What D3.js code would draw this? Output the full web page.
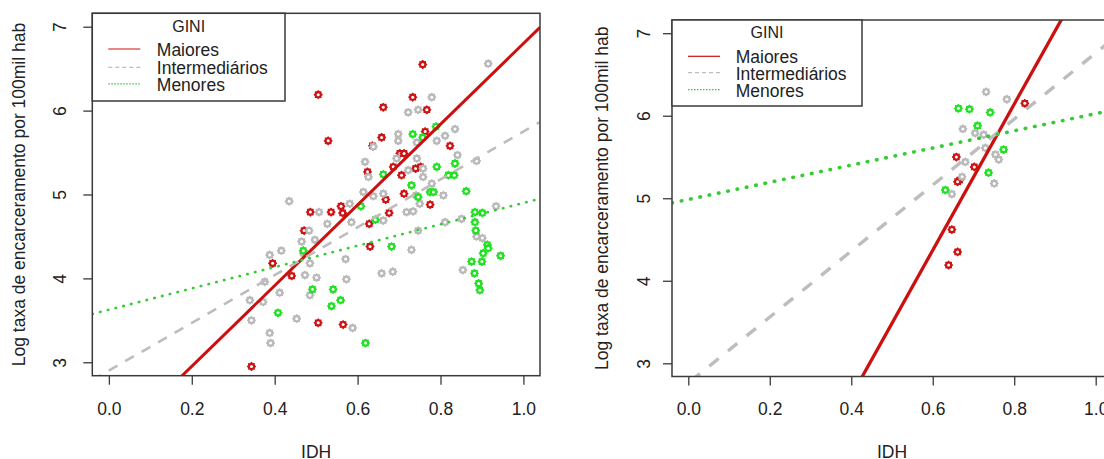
<!DOCTYPE html>
<html>
<head>
<meta charset="utf-8">
<script src="https://cdn.jsdelivr.net/npm/d3@7"></script>
<style>
  body { margin: 0; background: #fff; }
  svg text { font-family: "Liberation Sans", Arial, sans-serif; fill: #222; }
</style>
</head>
<body>
<script>
// data: [IDH, log taxa]
const leftMaiores = [
  [0.757,6.55],[0.505,6.19],[0.733,6.16],[0.662,6.04],[0.767,6.01],[0.529,5.64],[0.763,5.75],
  [0.658,5.68],[0.636,5.58],[0.823,5.58],[0.702,5.49],[0.712,5.49],[0.624,5.27],[0.686,5.33],
  [0.706,5.23],[0.740,5.31],[0.752,5.33],[0.712,5.01],[0.668,4.94],[0.775,4.88],[0.486,4.79],
  [0.536,4.79],[0.560,4.86],[0.564,4.78],[0.676,4.78],[0.628,4.65],[0.471,4.57],[0.395,4.18],
  [0.441,4.03],[0.630,4.38],[0.505,3.47],[0.565,3.45],[0.344,2.95]
];
const leftInter = [
  [0.915,6.56],[0.779,6.16],[0.722,5.98],[0.746,6.01],[0.698,5.72],[0.698,5.64],[0.791,5.64],
  [0.811,5.70],[0.835,5.78],[0.743,5.62],[0.638,5.57],[0.841,5.47],[0.887,5.40],[0.618,5.39],
  [0.694,5.43],[0.743,5.43],[0.722,5.29],[0.758,5.31],[0.626,5.21],[0.758,5.21],[0.779,5.13],
  [0.807,4.99],[0.741,4.99],[0.662,5.01],[0.638,4.98],[0.614,5.03],[0.435,4.92],[0.581,4.89],
  [0.718,4.79],[0.734,4.80],[0.750,4.89],[0.934,4.86],[0.507,4.79],[0.527,4.65],[0.585,4.67],
  [0.662,4.69],[0.851,4.71],[0.811,4.67],[0.746,4.57],[0.887,4.50],[0.483,4.57],[0.388,4.28],
  [0.416,4.33],[0.465,4.44],[0.497,4.46],[0.469,4.30],[0.485,4.18],[0.473,4.04],[0.501,4.01],
  [0.376,3.96],[0.340,3.74],[0.372,3.72],[0.412,3.83],[0.344,3.50],[0.453,3.52],[0.485,3.80],
  [0.388,3.35],[0.390,3.23],[0.571,4.23],[0.573,3.99],[0.588,3.41],[0.658,4.06],[0.685,4.08],
  [0.730,4.34],[0.854,4.10],[0.901,4.48]
];
const leftMenores = [
  [0.789,5.81],[0.733,5.72],[0.757,5.68],[0.662,5.24],[0.791,5.33],[0.835,5.37],[0.819,5.23],
  [0.833,5.23],[0.730,5.11],[0.775,5.03],[0.783,5.03],[0.746,4.97],[0.862,5.04],[0.608,4.86],
  [0.643,4.70],[0.883,4.79],[0.901,4.78],[0.883,4.67],[0.885,4.57],[0.469,4.33],[0.682,4.38],
  [0.913,4.40],[0.915,4.36],[0.903,4.30],[0.945,4.27],[0.875,4.20],[0.900,4.20],[0.882,4.06],
  [0.892,3.94],[0.895,3.86],[0.491,3.87],[0.541,3.87],[0.559,3.74],[0.537,3.67],[0.408,3.59],
  [0.619,3.23]
];
const rightMaiores = [
  [0.826,6.15],[0.658,5.50],[0.702,5.38],[0.666,5.22],[0.661,5.20],[0.647,4.62],[0.661,4.35],[0.639,4.19]
];
const rightInter = [
  [0.731,6.29],[0.782,6.20],[0.674,5.84],[0.704,5.79],[0.725,5.77],[0.729,5.61],[0.754,5.53],
  [0.762,5.47],[0.680,5.44],[0.672,5.26],[0.751,5.18],[0.647,5.05]
];
const rightMenores = [
  [0.663,6.09],[0.690,6.08],[0.741,6.04],[0.710,5.88],[0.774,5.59],[0.737,5.31],[0.631,5.10]
];

// regression lines: [intercept, slope]
const leftFits = [[1.99, 4.81], [2.90, 2.85], [3.626, 1.273]];
const rightFits = [[-0.94, 8.85], [2.76, 4.0], [4.985, 1.04]];

const groups = ["Maiores", "Intermediários", "Menores"];
const xTicks = [0, 0.2, 0.4, 0.6, 0.8, 1.0];
const yTicks = [3, 4, 5, 6, 7];
const legendTitle = "GINI";
const xTitle = "IDH";
const yTitle = "Log taxa de encarceramento por 100mil hab";

const pointColors = ["#cc1414", "#b9b9b9", "#22e022"];
const lineColors = ["#cc1010", "#bdbdbd", "#33cc33"];

const svg = d3.select("body").append("svg")
  .attr("width", 1104).attr("height", 459);

// small flower marker
function flower(r1, r2) {
  const pts = [];
  for (let i = 0; i < 16; i++) {
    const a = i * Math.PI / 8;
    const r = i % 2 === 0 ? r1 : r2;
    pts.push([r * Math.cos(a), r * Math.sin(a)]);
  }
  return d3.line().curve(d3.curveCardinalClosed)(pts);
}

function drawPanel(cfg) {
  const x = d3.scaleLinear().domain([-0.04, 1.04]).range([cfg.x0, cfg.x1]);
  const y = d3.scaleLinear().domain([2.84, 7.16]).range([cfg.y1, cfg.y0]);
  const g = svg.append("g");

  g.append("clipPath").attr("id", cfg.id)
    .append("rect")
    .attr("x", cfg.x0).attr("y", cfg.y0)
    .attr("width", cfg.x1 - cfg.x0).attr("height", cfg.y1 - cfg.y0);

  const plot = g.append("g").attr("clip-path", "url(#" + cfg.id + ")");

  // points
  cfg.sets.forEach((set, i) => {
    const pg = plot.append("g");
    pg.selectAll("g").data(set).join("g")
      .attr("transform", d => `translate(${x(d[0])},${y(d[1])})`)
      .each(function () {
        d3.select(this).append("path")
          .attr("d", flower(4.6, 3.7))
          .attr("fill", pointColors[i]);
        d3.select(this).append("circle")
          .attr("r", 1.5).attr("fill", "#fff");
      });
  });

  // fitted lines
  cfg.fits.forEach((f, i) => {
    const xs = x.domain();
    plot.append("line")
      .attr("x1", x(xs[0])).attr("y1", y(f[0] + f[1] * xs[0]))
      .attr("x2", x(xs[1])).attr("y2", y(f[0] + f[1] * xs[1]))
      .attr("stroke", lineColors[i])
      .attr("stroke-width", cfg.lw[i])
      .attr("stroke-dasharray", cfg.dash[i])
      .attr("stroke-linecap", i === 2 ? "round" : "butt");
  });

  // frame
  g.append("rect")
    .attr("x", cfg.x0).attr("y", cfg.y0)
    .attr("width", cfg.x1 - cfg.x0).attr("height", cfg.y1 - cfg.y0)
    .attr("fill", "none").attr("stroke", "#3a3a3a").attr("stroke-width", 1.5);

  // axes
  const xAxis = g.append("g")
    .attr("transform", `translate(0,${cfg.y1})`)
    .call(d3.axisBottom(x).tickValues(xTicks).tickSize(9).tickFormat(d3.format(".1f")));
  xAxis.select(".domain").remove();
  xAxis.selectAll("line").attr("stroke", "#3a3a3a").attr("stroke-width", 1.3);
  xAxis.selectAll("text").attr("y", 0).attr("dy", null)
    .attr("transform", `translate(0,${cfg.xLabY - cfg.y1})`)
    .attr("dominant-baseline", "central")
    .style("font-size", "17.5px").style("font-family", null);

  const yAxis = g.append("g")
    .attr("transform", `translate(${cfg.x0},0)`)
    .call(d3.axisLeft(y).tickValues(yTicks).tickSize(9).tickFormat(d3.format("d")));
  yAxis.select(".domain").remove();
  yAxis.selectAll("line").attr("stroke", "#3a3a3a").attr("stroke-width", 1.3);
  yAxis.selectAll("text")
    .attr("x", 0).attr("dy", null)
    .attr("transform", `translate(${cfg.yLabX - cfg.x0},0) rotate(-90)`)
    .attr("text-anchor", "middle")
    .attr("dominant-baseline", "central")
    .style("font-size", "17.5px").style("font-family", null);

  // titles
  g.append("text")
    .attr("x", (cfg.x0 + cfg.x1) / 2).attr("y", cfg.xTitleY)
    .attr("text-anchor", "middle").attr("dominant-baseline", "central")
    .style("font-size", "17.5px").text(xTitle);
  g.append("text")
    .attr("transform", `translate(${cfg.yTitleX},${(cfg.y0 + cfg.y1) / 2}) rotate(-90)`)
    .attr("text-anchor", "middle").attr("dominant-baseline", "central")
    .style("font-size", "17.5px").text(yTitle);

  // legend
  const L = cfg.legend;
  const lg = g.append("g").attr("transform", `translate(${cfg.x0},${cfg.y0})`);
  lg.append("rect")
    .attr("width", L.w).attr("height", L.h)
    .attr("fill", "#fff").attr("stroke", "#3a3a3a").attr("stroke-width", 1.5);
  lg.append("text")
    .attr("x", L.w / 2).attr("y", L.titleY)
    .attr("text-anchor", "middle").attr("dominant-baseline", "central")
    .style("font-size", "16px").text(legendTitle);
  groups.forEach((name, i) => {
    lg.append("line")
      .attr("x1", L.lx1).attr("x2", L.lx2)
      .attr("y1", L.rows[i] - 1).attr("y2", L.rows[i] - 1)
      .attr("stroke", lineColors[i]).attr("stroke-width", 1.2)
      .attr("stroke-dasharray", ["none", "4,3", "1.5,1.5"][i]);
    lg.append("text")
      .attr("x", L.tx).attr("y", L.rows[i])
      .attr("dominant-baseline", "central")
      .style("font-size", "17.5px").text(name);
  });
}

drawPanel({
  id: "clipL", x0: 92.3, x1: 540, y0: 13.3, y1: 375.7,
  sets: [leftMaiores, leftInter, leftMenores], fits: leftFits,
  lw: [3, 2.6, 2.6], dash: ["none", "10,9", "0.5,7.5"],
  xLabY: 409, xTitleY: 452, yLabX: 60, yTitleX: 19,
  legend: { w: 192.7, h: 87.7, titleY: 13.5, rows: [36.7, 55, 71.5], lx1: 16, lx2: 48, tx: 64.5 }
});

drawPanel({
  id: "clipR", x0: 672, x1: 1112, y0: 20, y1: 376.5,
  sets: [rightMaiores, rightInter, rightMenores], fits: rightFits,
  lw: [3.3, 3.4, 3.6], dash: ["none", "12,12", "0.5,9"],
  xLabY: 409, xTitleY: 452, yLabX: 644, yTitleX: 602,
  legend: { w: 190, h: 86, titleY: 12.5, rows: [37.3, 53.6, 70.7], lx1: 16, lx2: 48, tx: 63.7 }
});
</script>
</body>
</html>
